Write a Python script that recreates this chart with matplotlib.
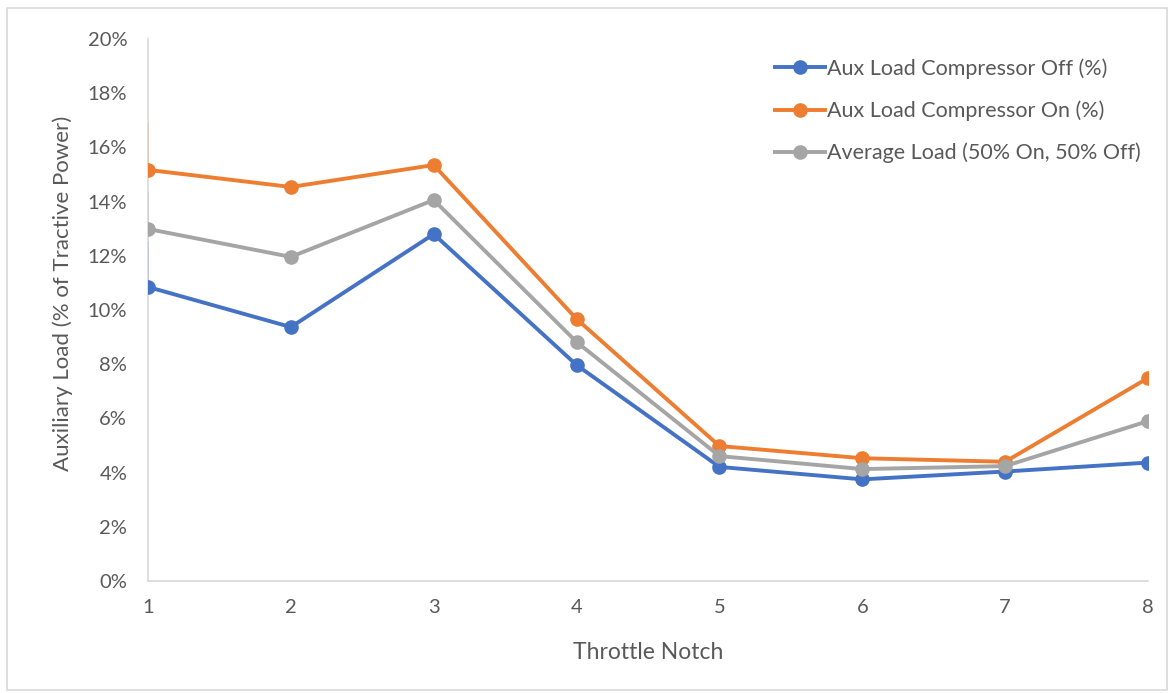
import matplotlib
matplotlib.use("Agg")
import matplotlib.pyplot as plt
from matplotlib.patches import Rectangle
from matplotlib.ticker import FuncFormatter

notches = [1, 2, 3, 4, 5, 6, 7, 8]
comp_off = [10.85, 9.37, 12.80, 7.97, 4.21, 3.75, 4.04, 4.37]
comp_on = [15.17, 14.54, 15.35, 9.67, 4.98, 4.53, 4.40, 7.49]
average = [12.99, 11.96, 14.06, 8.82, 4.61, 4.13, 4.24, 5.90]
labels = ["Aux Load Compressor Off (%)", "Aux Load Compressor On (%)", "Average Load (50% On, 50% Off)"]
colors = ["#4472C4", "#ED7D31", "#A5A5A5"]
# small spike artifacts at the first point (top value of the thin line)
spike_top = [12.5, 16.9, 14.3]

plt.rcParams['font.family'] = ['Lato', 'DejaVu Sans']
fig = plt.figure(figsize=(11.71, 6.93), dpi=100)
W, H = 1171, 693
ax = fig.add_axes([148 / W, 1 - 581 / H, 1000 / W, 542 / H])

series = [comp_off, comp_on, average]
for s, lab, c, top in zip(series, labels, colors, spike_top):
    ax.plot([notches[0], notches[0]], [s[0], top], color=c, lw=1.3, zorder=2)
for s, lab, c in zip(series, labels, colors):
    ax.plot(notches, s, color=c, lw=2.8, marker='o', ms=9.5, label=lab, zorder=3)

ax.set_xlim(1, 8)
ax.set_ylim(0, 20)
ax.set_yticks(range(0, 21, 2))
ax.yaxis.set_major_formatter(FuncFormatter(lambda v, p: f"{int(v)}%"))
ax.set_xticks(notches)
for sp in ['top', 'right']:
    ax.spines[sp].set_visible(False)
for sp in ['left', 'bottom']:
    ax.spines[sp].set_color('#D9D9D9')
    ax.spines[sp].set_linewidth(1.2)
ax.tick_params(length=0, labelsize=14.5, colors='#595959')
ax.tick_params(axis='y', pad=15)
ax.tick_params(axis='x', pad=13)
ax.set_xlabel("Throttle Notch", fontsize=16.5, color='#595959', labelpad=19)
ax.set_ylabel("Auxiliary Load (% of Tractive Power)", fontsize=16, color='#595959')
ax.yaxis.set_label_coords(-0.075, 0.53)

leg = ax.legend(loc='upper left', bbox_to_anchor=(608 / 1000, 1.0), frameon=False,
                fontsize=15.5, labelcolor='#595959', handlelength=2.3, handletextpad=0.1,
                labelspacing=1.0)

fig.patches.append(Rectangle((7 / W, 1 - 690 / H), 1160 / W, 682 / H, transform=fig.transFigure,
                             fill=False, edgecolor='#D9D9D9', lw=1.2))
fig.savefig("out.png", dpi=100)
